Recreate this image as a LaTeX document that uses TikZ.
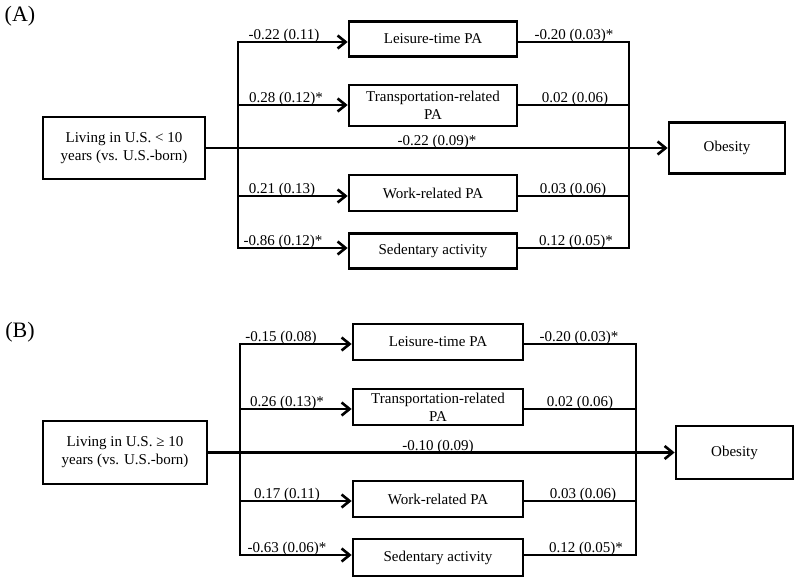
\documentclass[tikz,border=0pt]{standalone}
\usepackage{fontspec}
\setmainfont{Liberation Serif}
\usetikzlibrary{arrows.meta}
\begin{document}
\begin{tikzpicture}[x=1pt,y=-1pt,
  box/.style={draw, line width=2.7pt, align=center, inner sep=0pt, font=\fontsize{15}{18}\selectfont},
  lbl/.style={anchor=base, inner sep=0pt, font=\fontsize{15}{18}\selectfont},
  ln/.style={line width=2.6pt, line join=miter},
  arr/.style={ln, -{Straight Barb[length=8pt,width=13pt,line width=2.6pt]}},
  panel/.style={font=\fontsize{22}{26}\selectfont, inner sep=0pt}]
\useasboundingbox (0,0) rectangle (800,583);

% ---------------- Panel A ----------------
\node[panel] (A-tag) at (20,16) {(A)};
\node[box, minimum width=162pt, minimum height=62pt] (A-src) at (124,148) {Living in U.S. < 10\\years (vs. U.S.-born)};
\node[box, minimum width=168pt, minimum height=35pt] (A-leis) at (433,39) {Leisure-time PA};
\node[box, minimum width=168pt, minimum height=41pt] (A-trans) at (433,105.5) {Transportation-related\\PA};
\node[box, minimum width=168pt, minimum height=36pt] (A-work) at (433,193) {Work-related PA};
\node[box, minimum width=168pt, minimum height=35pt] (A-sed) at (433,251) {Sedentary activity};
\node[box, minimum width=116pt, minimum height=51pt] (A-ob) at (727,148) {Obesity};

\coordinate (A-l1) at (238,42);
\coordinate (A-l2) at (238,105);
\coordinate (A-l3) at (238,196);
\coordinate (A-l4) at (238,248);
\coordinate (A-r1) at (629,42);
\coordinate (A-r2) at (629,105);
\coordinate (A-r3) at (629,196);
\coordinate (A-r4) at (629,248);

\draw[ln, line cap=rect] (A-l1) -- (A-l4);
\draw[arr] (A-l1) -- (A-l1 -| A-leis.west);
\draw[arr] (A-l2) -- (A-l2 -| A-trans.west);
\draw[arr] (A-l3) -- (A-l3 -| A-work.west);
\draw[arr] (A-l4) -- (A-l4 -| A-sed.west);
\draw[ln] (A-r1 -| A-leis.east) -- (A-r1) -- (A-r4) -- (A-r4 -| A-sed.east);
\draw[ln] (A-r2 -| A-trans.east) -- (A-r2);
\draw[ln] (A-r3 -| A-work.east) -- (A-r3);
\draw[arr] (A-src.east) -- (A-src.east -| A-ob.west);

\node[lbl] (A-a1) at (284,39.5) {-0.22 (0.11)};
\node[lbl] (A-a2) at (286,102.5) {0.28 (0.12)*};
\node[lbl] (A-a3) at (282,193.5) {0.21 (0.13)};
\node[lbl] (A-a4) at (283,245.5) {-0.86 (0.12)*};
\node[lbl] (A-b1) at (574,39.5) {-0.20 (0.03)*};
\node[lbl] (A-b2) at (575,102.5) {0.02 (0.06)};
\node[lbl] (A-b3) at (573,193.5) {0.03 (0.06)};
\node[lbl] (A-b4) at (576,245.5) {0.12 (0.05)*};
\node[lbl] (A-c) at (437,145.5) {-0.22 (0.09)*};

% ---------------- Panel B ----------------
\node[panel] (B-tag) at (20,332) {(B)};
\node[box, minimum width=164pt, minimum height=63pt] (B-src) at (125,452.5) {Living in U.S. ≥ 10\\years (vs. U.S.-born)};
\node[box, minimum width=170pt, minimum height=36pt] (B-leis) at (438,342) {Leisure-time PA};
\node[box, minimum width=170pt, minimum height=36pt] (B-trans) at (438,407) {Transportation-related\\PA};
\node[box, minimum width=170pt, minimum height=36pt] (B-work) at (438,499) {Work-related PA};
\node[box, minimum width=170pt, minimum height=37pt] (B-sed) at (438,557.5) {Sedentary activity};
\node[box, minimum width=117pt, minimum height=53pt] (B-ob) at (734.5,452.5) {Obesity};

\coordinate (B-l1) at (240,344);
\coordinate (B-l2) at (240,409);
\coordinate (B-l3) at (240,501);
\coordinate (B-l4) at (240,555);
\coordinate (B-r1) at (636,344);
\coordinate (B-r2) at (636,409);
\coordinate (B-r3) at (636,501);
\coordinate (B-r4) at (636,555);

\draw[ln, line cap=rect] (B-l1) -- (B-l4);
\draw[arr] (B-l1) -- (B-l1 -| B-leis.west);
\draw[arr] (B-l2) -- (B-l2 -| B-trans.west);
\draw[arr] (B-l3) -- (B-l3 -| B-work.west);
\draw[arr] (B-l4) -- (B-l4 -| B-sed.west);
\draw[ln] (B-r1 -| B-leis.east) -- (B-r1) -- (B-r4) -- (B-r4 -| B-sed.east);
\draw[ln] (B-r2 -| B-trans.east) -- (B-r2);
\draw[ln] (B-r3 -| B-work.east) -- (B-r3);
\draw[arr] (B-src.east) -- (B-src.east -| B-ob.west);

\node[lbl] (B-a1) at (281,341.5) {-0.15 (0.08)};
\node[lbl] (B-a2) at (287,406.5) {0.26 (0.13)*};
\node[lbl] (B-a3) at (287,498.5) {0.17 (0.11)};
\node[lbl] (B-a4) at (287,552.5) {-0.63 (0.06)*};
\node[lbl] (B-b1) at (579,341.5) {-0.20 (0.03)*};
\node[lbl] (B-b2) at (580,406.5) {0.02 (0.06)};
\node[lbl] (B-b3) at (583,498.5) {0.03 (0.06)};
\node[lbl] (B-b4) at (586,552.5) {0.12 (0.05)*};
\node[lbl] (B-c) at (438,450) {-0.10 (0.09)};
\end{tikzpicture}
\end{document}
